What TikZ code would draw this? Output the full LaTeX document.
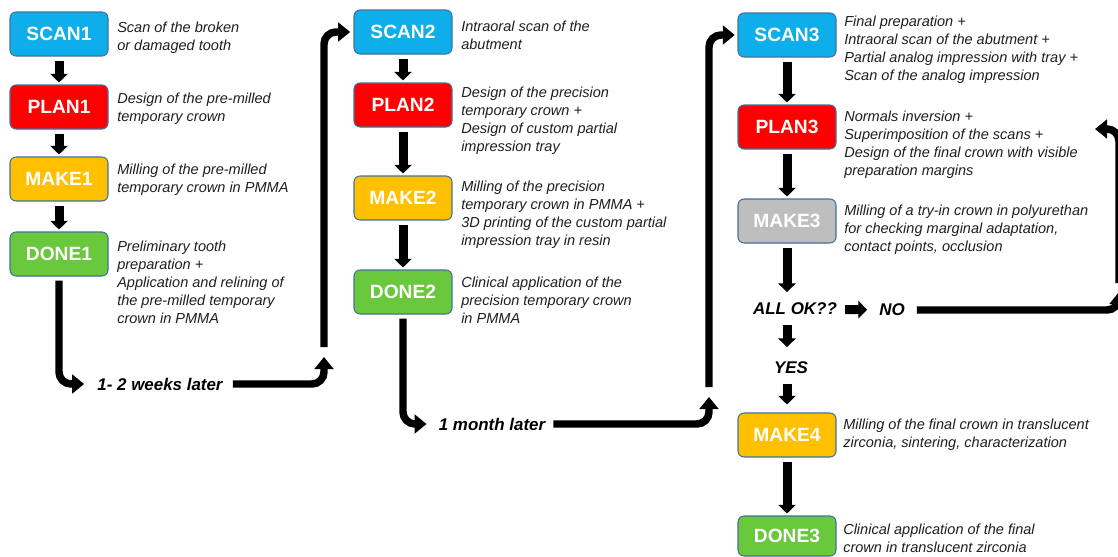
\documentclass[tikz,border=0pt]{standalone}
\usepackage{fontspec}
\setmainfont{Liberation Sans}
\usetikzlibrary{arrows.meta}
\definecolor{scanblue}{RGB}{14,174,234}
\definecolor{planred}{RGB}{255,0,0}
\definecolor{makeamber}{RGB}{255,192,0}
\definecolor{donegreen}{RGB}{105,200,60}
\definecolor{trygray}{RGB}{190,190,190}
\definecolor{rimblue}{RGB}{65,113,156}
\definecolor{noteink}{RGB}{30,30,30}
\begin{document}
\begin{tikzpicture}[x=0.75pt,y=0.75pt,yscale=-1,xscale=1,
	stage/.style={draw=rimblue,line width=0.8pt,rounded corners=4.5pt,minimum width=73.5pt,minimum height=33pt,inner sep=0pt,text=white,font=\fontsize{14.4}{16}\selectfont\bfseries},
	scanbox/.style={stage,fill=scanblue},
	planbox/.style={stage,fill=planred},
	makebox/.style={stage,fill=makeamber},
	trybox/.style={stage,fill=trygray},
	donebox/.style={stage,fill=donegreen},
	note/.style={anchor=north west,inner sep=0pt,align=left,text=noteink,font=\fontsize{10.9}{13.5}\selectfont\itshape},
	cue/.style={inner sep=0pt,font=\fontsize{12.7}{15}\selectfont\bfseries\itshape},
	steparrow/.style={line width=6.75pt,-{Triangle[length=6.5pt,width=13pt]},shorten <=3pt,shorten >=1.5pt},
	flowarrow/.style={line width=5.6pt,rounded corners=9pt,-{Triangle[length=9pt,width=14pt]}},
	flowline/.style={line width=5.6pt,rounded corners=9pt}]
				\useasboundingbox (0,0) rectangle (1118,557);
				\node[scanbox] (scan1) at (59,34) {SCAN1};
				\node[planbox] (plan1) at (59,107) {PLAN1};
				\node[makebox] (make1) at (59,179) {MAKE1};
				\node[donebox] (done1) at (59,254) {DONE1};
				\node[scanbox] (scan2) at (403,32) {SCAN2};
				\node[planbox] (plan2) at (403,105) {PLAN2};
				\node[makebox] (make2) at (403,198) {MAKE2};
				\node[donebox] (done2) at (403,292) {DONE2};
				\node[scanbox] (scan3) at (787,35) {SCAN3};
				\node[planbox] (plan3) at (787,127) {PLAN3};
				\node[trybox] (make3) at (787,221) {MAKE3};
				\node[makebox] (make4) at (787,435) {MAKE4};
				\node[donebox,minimum height=30pt] (done3) at (787,536) {DONE3};
				\node[note] (n1) at (117,22) {Scan of the broken\\or damaged tooth};
				\node[note] (n2) at (117,93) {Design of the pre-milled\\temporary crown};
				\node[note] (n3) at (117,164) {Milling of the pre-milled\\temporary crown in PMMA};
				\node[note] (n4) at (117,241) {Preliminary tooth\\preparation +\\Application and relining of\\the pre-milled temporary\\crown in PMMA};
				\node[note] (n5) at (461,21) {Intraoral scan of the\\abutment};
				\node[note] (n6) at (461,87) {Design of the precision\\temporary crown +\\Design of custom partial\\impression tray};
				\node[note] (n7) at (461,181) {Milling of the precision\\temporary crown in PMMA +\\3D printing of the custom partial\\impression tray in resin};
				\node[note] (n8) at (461,277) {Clinical application of the\\precision temporary crown\\in PMMA};
				\node[note] (n9) at (844,16) {Final preparation +\\Intraoral scan of the abutment +\\Partial analog impression with tray +\\Scan of the analog impression};
				\node[note] (n10) at (844,111) {Normals inversion +\\Superimposition of the scans +\\Design of the final crown with visible\\preparation margins};
				\node[note] (n11) at (844,205) {Milling of a try-in crown in polyurethan\\for checking marginal adaptation,\\contact points, occlusion};
				\node[note] (n12) at (843,419) {Milling of the final crown in translucent\\zirconia, sintering, characterization};
				\node[note] (n13) at (843,524) {Clinical application of the final\\crown in translucent zirconia};
				\node[cue] (weeks) at (160,384) {1- 2 weeks later};
				\node[cue] (month) at (492,424) {1 month later};
				\node[cue] (allok) at (795,309) {ALL OK??};
				\node[cue] (no) at (892,310) {NO};
				\node[cue] (yes) at (791,368) {YES};
				\coordinate (up1) at (324,357);
				\coordinate (rise1) at (324,347);
				\coordinate (up2) at (709,397);
				\coordinate (rise2) at (709,387);
				\coordinate (up3) at (1119,292);
				\coordinate (rise3) at (1119,283);
				\coordinate (back3) at (1095,129);
				\draw[steparrow] (scan1) -- (plan1);
				\draw[steparrow] (plan1) -- (make1);
				\draw[steparrow] (make1) -- (done1);
				\draw[steparrow] (scan2) -- (plan2);
				\draw[steparrow] (plan2) -- (make2);
				\draw[steparrow] (make2) -- (done2);
				\draw[steparrow] (scan3) -- (plan3);
				\draw[steparrow] (plan3) -- (make3);
				\draw[steparrow,shorten >=8pt] (make3) -- (make3 |- allok.north);
				\draw[steparrow,shorten <=7pt,shorten >=11pt] (make3 |- allok.south) -- (make3 |- yes.north);
				\draw[steparrow,shorten <=7pt,shorten >=6pt] (make3 |- yes.south) -- (make4);
				\draw[steparrow] (make4) -- (done3);
				\draw[steparrow,shorten <=6pt,shorten >=9pt] (allok) -- (no);
				\draw[flowarrow,shorten <=3pt,shorten >=9.75pt] (done1) |- (weeks);
				\draw[flowarrow,shorten <=7.5pt] (weeks) -| (up1);
				\draw[flowarrow,shorten >=2.5pt] (rise1) |- (scan2);
				\draw[flowarrow,shorten <=3pt,shorten >=9pt] (done2) |- (month);
				\draw[flowarrow,shorten <=6pt] (month) -| (up2);
				\draw[flowarrow,shorten >=2pt] (rise2) |- (scan3);
				\draw[flowarrow,shorten <=9pt] (no) -| (up3);
				\draw[flowarrow] (rise3) |- (back3);
\end{tikzpicture}
\end{document}
